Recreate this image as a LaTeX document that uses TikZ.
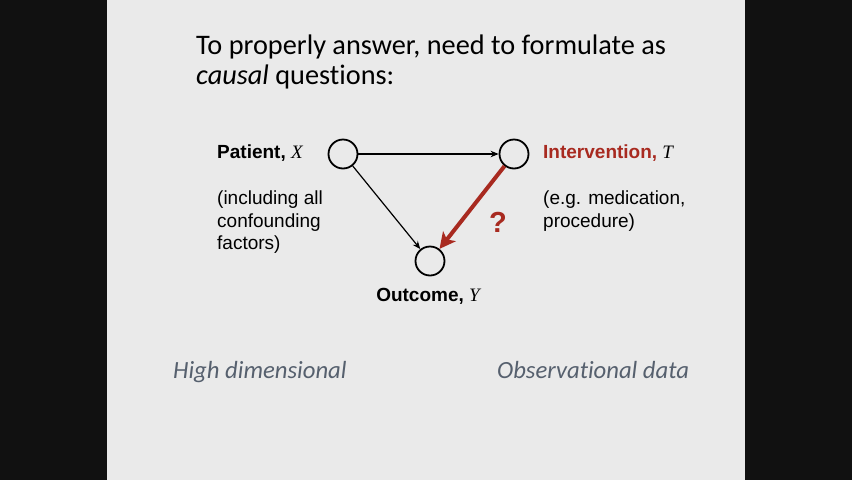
\documentclass[tikz,border=0pt]{standalone}
\usepackage{fontspec}
\setmainfont{Liberation Sans}
\newfontfamily\slidefont[Ligatures=NoCommon]{Carlito}
\newfontfamily\varfont{Liberation Serif}
\usetikzlibrary{arrows.meta}
\definecolor{framebg}{HTML}{111111}
\definecolor{slidebg}{HTML}{EAEAEA}
\definecolor{accent}{HTML}{A82A20}
\definecolor{notecol}{HTML}{56606E}
\newcommand{\var}[1]{{\varfont\itshape #1}}
\begin{document}
\begin{tikzpicture}[x=1pt,y=-1pt,
  varnode/.style={circle,draw=black,line width=1.8pt,minimum size=29pt,inner sep=0pt},
  lab/.style={inner sep=0pt,anchor=base west,font=\fontsize{19}{22.5}\selectfont},
  note/.style={inner sep=0pt,anchor=north west,align=left,font=\fontsize{19}{22.5}\selectfont},
  title/.style={inner sep=0pt,anchor=base west,font=\slidefont\fontsize{28.3}{30}\selectfont},
  remark/.style={inner sep=0pt,anchor=base west,text=notecol,font=\slidefont\itshape\fontsize{24.7}{28}\selectfont},
  edge/.style={line width=1.2pt,-{Stealth[length=8pt,width=6.5pt]}},
  query/.style={line width=4pt,draw=accent,-{Stealth[length=16pt,width=16pt,inset=4pt]}}]
% backdrop: dark frame with the slide in the middle
\fill[framebg] (0,0) rectangle (852,480);
\fill[slidebg] (107,0) rectangle (745,480);
\useasboundingbox (0,0) rectangle (852,480);

% heading
\node[title] (head1) at (196,54) {To properly answer, need to formulate as};
\node[title] (head2) at (196,84) {\textit{causal} questions:};

% causal graph
\node[varnode] (x) at (343,154) {};
\node[varnode] (t) at (514,154) {};
\node[varnode] (y) at (430,261) {};

\draw[edge] (x) -- (t);
\draw[edge] (x) -- (y);
\draw[query] (t) -- (y);
\node[text=accent,inner sep=0pt,font=\bfseries\fontsize{29}{30}\selectfont] (q) at (498,222) {?};

% variable labels
\node[lab] (xlab) at (217,158) {\textbf{Patient,} \var{X}};
\node[note] (xnote) at (217,191) {(including all\\confounding\\factors)};
\node[lab] (tlab) at (543,158) {\textcolor{accent}{\textbf{Intervention,}} \var{T}};
\node[note] (tnote) at (543,191) {(e.g. medication,\\procedure)};
\node[lab,anchor=base] (ylab) at (428,301) {\textbf{Outcome,} \var{Y}};

% remarks
\node[remark] (dim) at (173,378) {High dimensional};
\node[remark] (obs) at (497,378) {Observational data};
\end{tikzpicture}
\end{document}
